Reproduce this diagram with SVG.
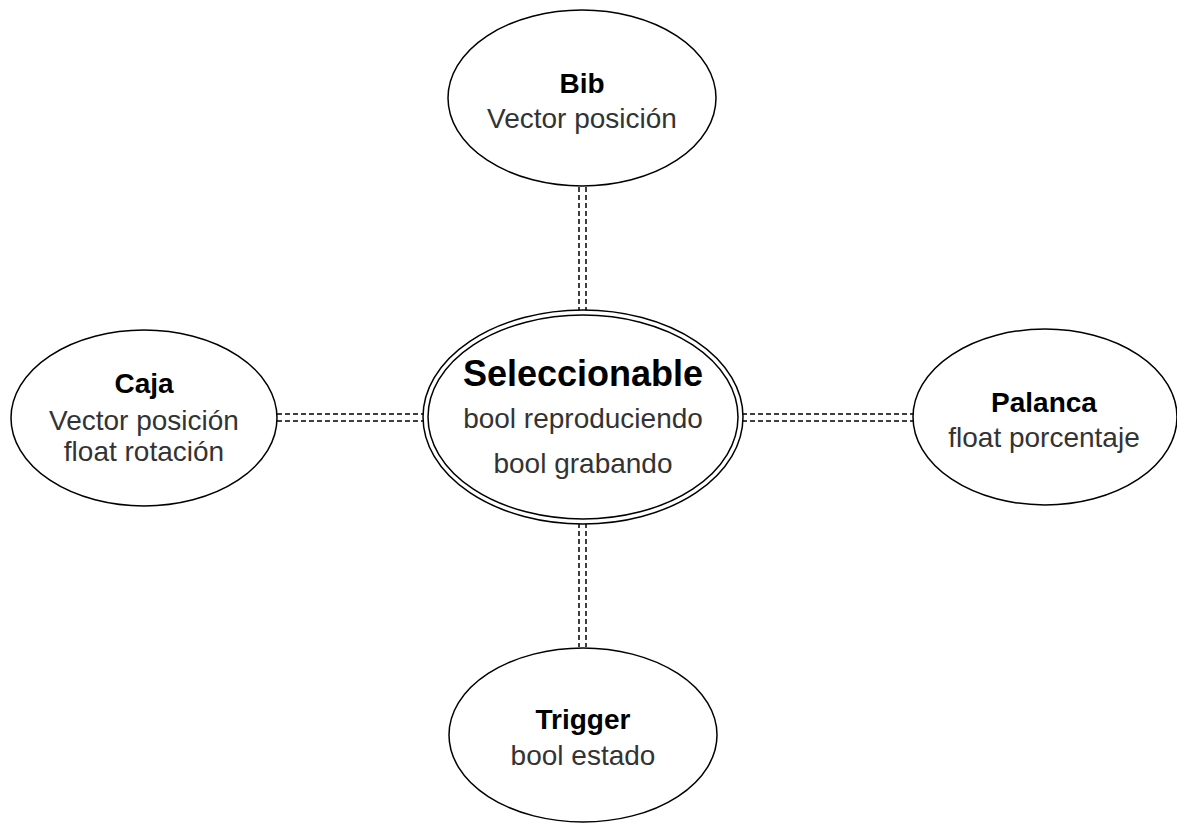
<svg xmlns="http://www.w3.org/2000/svg" width="1177" height="823" viewBox="0 0 1177 823">
  <style>
    .shape { fill: #ffffff; stroke: #000000; stroke-width: 1.5; }
    .link { fill: none; stroke: #000000; stroke-width: 1.5; stroke-dasharray: 5 3; }
    .title { font-family: "Liberation Sans", Arial, sans-serif; font-weight: bold; font-size: 28px; fill: #000000; text-anchor: middle; }
    .attr { font-family: "Liberation Sans", Arial, sans-serif; font-size: 28px; fill: #333333; text-anchor: middle; }
    .big { font-size: 36px; }
  </style>
  <rect width="1177" height="823" fill="#ffffff"/>

  <!-- double dashed links between the central entity and its satellites -->
  <g id="connectors">
    <line class="link" x1="579" y1="187" x2="579" y2="311"/>
    <line class="link" x1="586" y1="187" x2="586" y2="311"/>
    <line class="link" x1="579" y1="523" x2="579" y2="647"/>
    <line class="link" x1="586" y1="523" x2="586" y2="647"/>
    <line class="link" x1="277" y1="414" x2="424" y2="414"/>
    <line class="link" x1="277" y1="421" x2="424" y2="421"/>
    <line class="link" x1="742" y1="414" x2="913" y2="414"/>
    <line class="link" x1="742" y1="421" x2="913" y2="421"/>
  </g>

  <g id="seleccionable">
    <ellipse class="shape" cx="583" cy="417" rx="160" ry="107"/>
    <ellipse class="shape" cx="583" cy="417" rx="155" ry="102"/>
    <text class="title big" x="583" y="386">Seleccionable</text>
    <text class="attr" x="583" y="428">bool reproduciendo</text>
    <text class="attr" x="583" y="473">bool grabando</text>
  </g>

  <g id="bib">
    <ellipse class="shape" cx="582" cy="98" rx="134" ry="88"/>
    <text class="title" x="582" y="93">Bib</text>
    <text class="attr" x="582" y="128">Vector posición</text>
  </g>

  <g id="caja">
    <ellipse class="shape" cx="144" cy="418" rx="133" ry="88"/>
    <text class="title" x="144" y="393">Caja</text>
    <text class="attr" x="144" y="430">Vector posición</text>
    <text class="attr" x="144" y="461">float rotación</text>
  </g>

  <g id="palanca">
    <ellipse class="shape" cx="1045" cy="417" rx="132" ry="88"/>
    <text class="title" x="1044" y="412">Palanca</text>
    <text class="attr" x="1044" y="447">float porcentaje</text>
  </g>

  <g id="trigger">
    <ellipse class="shape" cx="583" cy="735" rx="134" ry="87"/>
    <text class="title" x="583" y="729">Trigger</text>
    <text class="attr" x="583" y="765">bool estado</text>
  </g>
</svg>
